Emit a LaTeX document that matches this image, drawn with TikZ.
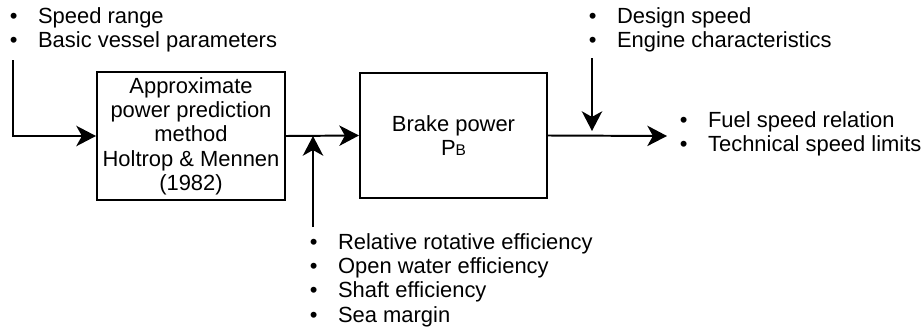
\documentclass[tikz,border=0pt]{standalone}
\usepackage{fontspec}
\setmainfont{Liberation Sans}
\usetikzlibrary{arrows.meta}
\newcommand{\diagFont}{\fontsize{15.6pt}{17.3pt}\selectfont}
\newcommand{\bulletItem}[1]{\makebox[20pt][l]{\textbullet}#1}
\newcommand{\lineWidth}{1.4pt}
\newcommand{\subB}{{\fontsize{11pt}{11pt}\selectfont B}}

\begin{document}
\begin{tikzpicture}[x=0.025cm, y=-0.025cm, line width=\lineWidth,
    font=\diagFont,
    block/.style={draw, line width=\lineWidth, align=center, inner sep=0pt},
    itemlist/.style={anchor=west, align=left, inner sep=0pt},
    flow/.style={-{Stealth[length=14pt, width=14.5pt, inset=4pt]}}]
  \useasboundingbox (0,0) rectangle (922,329);
  \node (approx) [block, minimum width=4.7cm, minimum height=3.2cm] at (191,136)
    {Approximate\\power prediction\\method\\Holtrop \& Mennen\\(1982)};
  \node (brake) [block, minimum width=4.675cm, minimum height=3.125cm] at (453.5,135.5)
    {Brake power\\P\subB};
  \node (inputs) [itemlist] at (9,30)
    {\bulletItem{Speed range}\\\bulletItem{Basic vessel parameters}};
  \node (engine) [itemlist] at (588,30)
    {\bulletItem{Design speed}\\\bulletItem{Engine characteristics}};
  \node (results) [itemlist] at (679,134)
    {\bulletItem{Fuel speed relation}\\\bulletItem{Technical speed limits}};
  \node (losses) [itemlist] at (309,280)
    {\bulletItem{Relative rotative efficiency}\\\bulletItem{Open water efficiency}\\
     \bulletItem{Shaft efficiency}\\\bulletItem{Sea margin}};
  \coordinate (inStart) at (13,60);
  \coordinate (lossStart) at (313,227);
  \coordinate (lossEnd) at (313,136);
  \coordinate (engStart) at (592,58);
  \coordinate (engEnd) at (592,131);
  \coordinate (outEnd) at (667,136);
      \draw [flow] (inStart) |- (approx.west);
      \draw [flow] (approx.east) -- (brake.west);
      \draw [flow] (lossStart) -- (lossEnd);
      \draw [flow] (brake.east) -- (outEnd);
      \draw [flow] (engStart) -- (engEnd);
\end{tikzpicture}
\end{document}
